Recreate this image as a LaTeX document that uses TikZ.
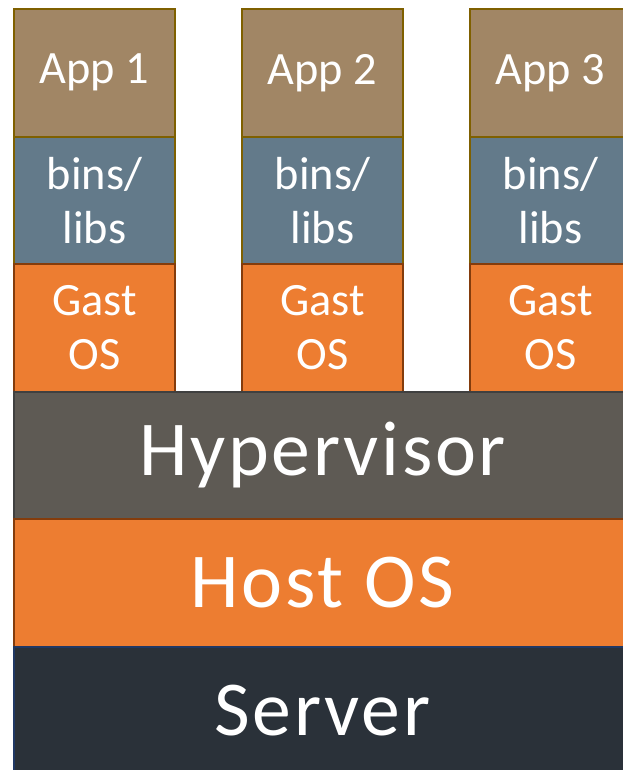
\documentclass[tikz,border=0pt]{standalone}
\usepackage{fontspec}
\setmainfont{Carlito}
\newfontfamily\widefont[LetterSpace=3.5]{Carlito}
\definecolor{appfill}{HTML}{A18665}
\definecolor{libfill}{HTML}{637A8A}
\definecolor{osfill}{HTML}{ED7D31}
\definecolor{hypfill}{HTML}{5E5A54}
\definecolor{srvfill}{HTML}{2A3139}
\definecolor{goldline}{HTML}{7F6000}
\definecolor{brownline}{HTML}{843C0C}
\definecolor{grayline}{HTML}{404040}
\definecolor{blueline}{HTML}{203864}
\tikzset{
  layer/.style={draw, line width=2bp, inner sep=0pt, anchor=north west,
    text=white, align=center},
  small/.style={layer, minimum width=161bp, minimum height=127.5bp,
    font=\fontsize{46.5}{54}\selectfont},
  wide/.style={layer, minimum width=617bp, minimum height=127.5bp,
    font=\widefont\fontsize{78}{84}\selectfont},
  applayer/.style={small, fill=appfill, draw=goldline},
  liblayer/.style={small, fill=libfill, draw=goldline},
  guestlayer/.style={small, fill=osfill, draw=brownline},
}
\begin{document}
\begin{tikzpicture}[x=1bp,y=-1bp]
  \clip (0,0) rectangle (623,770);
  \fill[white] (0,0) rectangle (623,770);
  % three virtual machine stacks
  \foreach \i/\x in {1/13,2/241,3/469}{
    \node[applayer]   (app\i)   at (\x,8)     {App \i};
    \node[liblayer]   (libs\i)  at (\x,135.5) {bins/\\libs};
    \node[guestlayer] (guest\i) at (\x,263)   {Gast\\OS};
  }
  % shared layers underneath
  \node[wide, fill=hypfill, draw=grayline]  (hyp)    at (13,390.5) {Hypervisor};
  \node[wide, fill=osfill, draw=brownline]  (hostos) at (13,518)   {Host OS};
  \node[wide, fill=srvfill, draw=blueline]  (server) at (13,645.5) {Server};
\end{tikzpicture}
\end{document}
